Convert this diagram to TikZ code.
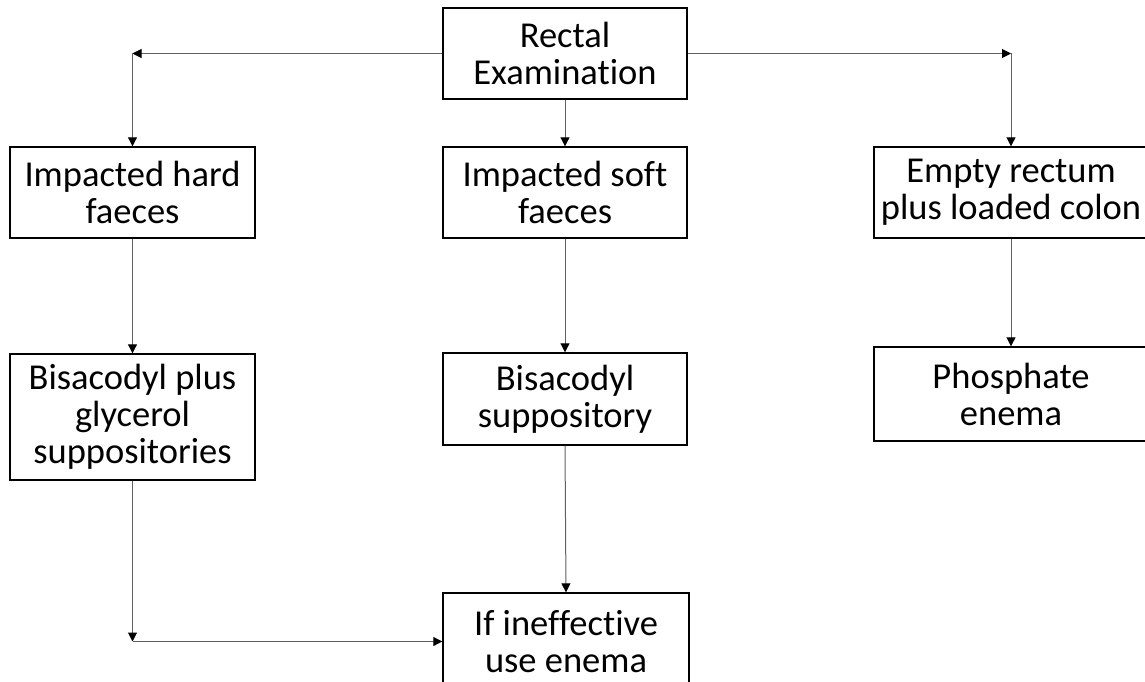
\documentclass[tikz,border=0pt]{standalone}
\usepackage{fontspec}
\setmainfont[Ligatures={NoCommon,NoRequired,NoContextual}]{Carlito}
\usetikzlibrary{arrows.meta}
% break a ligature between two letters
\newcommand{\nolig}{\kern0pt{}}
\begin{document}
\begin{tikzpicture}[x=1pt,y=-1pt,
  box/.style={draw=black,line width=1.4pt,fill=white,align=center,inner sep=0pt,
    font=\fontsize{36.5}{37}\selectfont},
  link/.style={draw=black!62,line width=1pt,
    -{Triangle[length=9pt,width=9pt,black]}}]
\useasboundingbox (0,0) rectangle (1145,682);
\begin{scope}
\clip (0,0) rectangle (1145,682);
% boxes
\node[box,minimum width=244pt,minimum height=91pt] (exam) at (565,53.5) {Rectal\\Examinat\nolig ion};
\node[box,minimum width=245pt,minimum height=91pt] (hard) at (132.5,192.5) {Impacted hard\\faeces};
\node[box,minimum width=244pt,minimum height=91pt] (soft) at (565,192.5) {Impacted soft\\faeces};
\node[box,minimum width=274pt,minimum height=91pt] (empty) at (1011,192.5) {Empty rectum\\plus loaded colon};
\node[box,minimum width=245pt,minimum height=126pt] (bisgly) at (132.5,417) {Bisacodyl plus\\glycerol\\suppositories};
\node[box,minimum width=244pt,minimum height=92pt] (bissup) at (565,399) {Bisacodyl\\suppository};
\node[box,minimum width=274pt,minimum height=94pt] (phos) at (1011,394) {Phosphate\\enema};
\node[box,minimum width=246pt,minimum height=97pt] (ineff) at (566,641.5) {If inef\nolig fect\nolig ive\\use enema};
\end{scope}
% corner points of the elbow connectors
\coordinate (cl) at (hard.north |- exam.west);
\coordinate (cr) at (empty.north |- exam.east);
\coordinate (cb) at (bisgly.south |- ineff.west);
% connectors
\draw[link] (exam.west) -- (cl);
\draw[link] (cl) -- (hard.north);
\draw[link] (exam.east) -- (cr);
\draw[link] (cr) -- (empty.north);
\draw[link] (exam.south) -- (soft.north);
\draw[link] (hard.south) -- (bisgly.north);
\draw[link] (soft.south) -- (bissup.north);
\draw[link] (empty.south) -- (phos.north);
\draw[link] (bissup.south) -- (ineff.north);
\draw[link] (bisgly.south) -- (cb);
\draw[link] (cb) -- (ineff.west);
\end{tikzpicture}
\end{document}
